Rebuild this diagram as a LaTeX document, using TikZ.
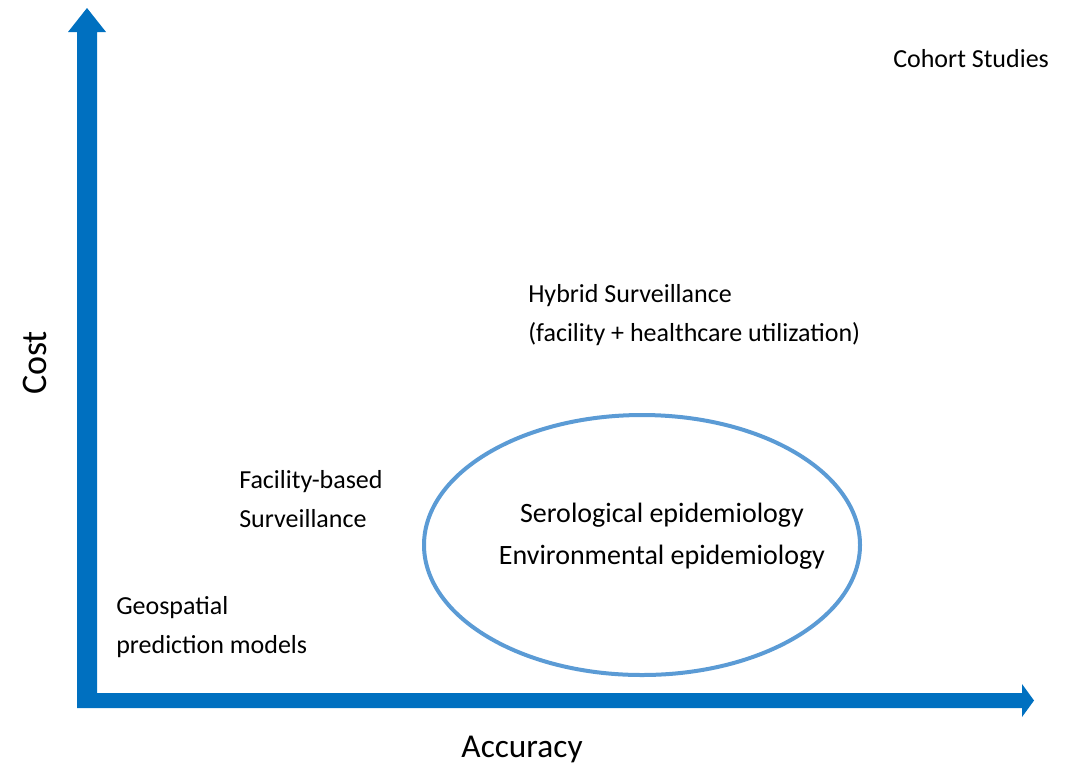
\documentclass[tikz,border=0pt]{standalone}
\usepackage{fontspec}
\setmainfont{Carlito}
\definecolor{axisblue}{HTML}{0070C0}
\definecolor{ringblue}{HTML}{5B9BD5}
\begin{document}
\begin{tikzpicture}[
			x=0.75pt, y=-0.75pt,
			label/.style={inner sep=0pt, align=left, font=\fontsize{19.5}{29.25}\selectfont},
			axislabel/.style={inner sep=0pt, font=\fontsize{25}{30}\selectfont}
		]
		\useasboundingbox (0,0) rectangle (1073,769);
		% axes
		\fill[axisblue] (77,708) -- (77,32) -- (68,32) -- (87,8) -- (106,32) -- (97,32) -- (97,693)
			-- (1022,693) -- (1022,684) -- (1034,700.5) -- (1022,717) -- (1022,708) -- cycle;
		\node[axislabel, rotate=90] (cost) at (35,363) {\fontsize{27}{30}\selectfont Cost};
		\node[axislabel] (accuracy) at (522,749) {Accuracy};
		% methods
		\node[label, anchor=west] (cohort) at (893,59) {Cohort Studies};
		\node[label, anchor=west] (hybrid) at (528,315) {Hybrid Surveillance\\(facility + healthcare utilization)};
		\node[label, anchor=west] (facility) at (239,499.5) {Facility-based\\Surveillance};
		\node[label, anchor=west] (geo) at (116,627) {Geospatial\\prediction models};
		\draw[draw=ringblue, line width=3pt] (642,545) ellipse (218 and 130);
		\node[inner sep=0pt, align=center, font=\fontsize{21}{31.5}\selectfont] (sero) at (662,536) {Serological epidemiology\\Environmental epidemiology};
	\end{tikzpicture}
\end{document}
